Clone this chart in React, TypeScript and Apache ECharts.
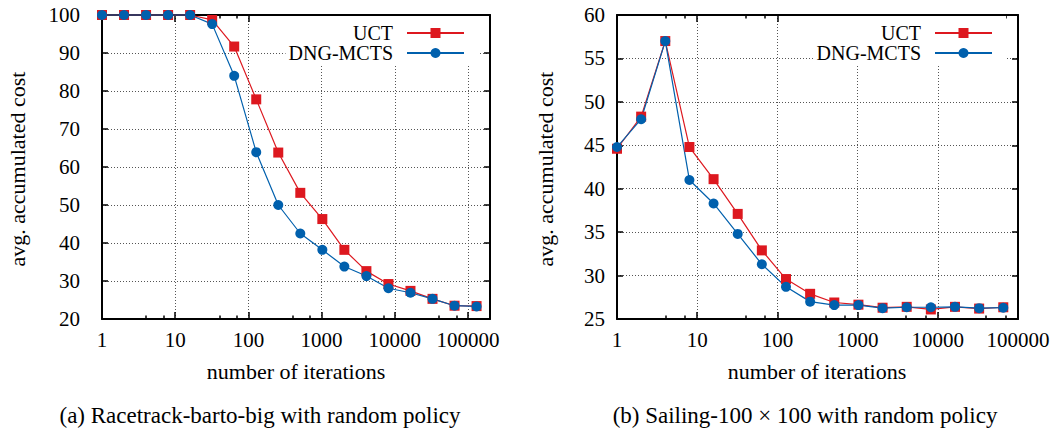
import React, { useEffect, useRef } from "react";
import * as echarts from "echarts";

const itersA = [1, 2, 4, 8, 16, 32, 64, 128, 256, 512, 1024, 2048, 4096, 8192, 16384, 32768, 65536, 131072];
const uctA = [100, 100, 100, 100, 100, 98.7, 91.7, 77.8, 63.8, 53.2, 46.3, 38.2, 32.6, 29.2, 27.4, 25.3, 23.5, 23.4];
const dngA = [100, 100, 100, 100, 100, 97.6, 84.0, 63.9, 50.0, 42.5, 38.2, 33.8, 31.3, 28.1, 26.9, 25.3, 23.5, 23.3];

const itersB = [1, 2, 4, 8, 16, 32, 64, 128, 256, 512, 1024, 2048, 4096, 8192, 16384, 32768, 65536];
const uctB = [44.6, 48.3, 57.0, 44.8, 41.1, 37.1, 32.9, 29.6, 27.9, 26.9, 26.65, 26.3, 26.4, 26.1, 26.4, 26.2, 26.35];
const dngB = [44.8, 48.0, 57.0, 41.0, 38.3, 34.8, 31.3, 28.7, 27.0, 26.6, 26.6, 26.25, 26.35, 26.35, 26.4, 26.25, 26.3];

const seriesNames = ["UCT", "DNG-MCTS"];
const xLabel = "number of iterations";
const yLabel = "avg. accumulated cost";
const captionA = "(a) Racetrack-barto-big with random policy";
const captionB = "(b) Sailing-100 \u00d7 100 with random policy";

const RED = "#dd181f";
const BLUE = "#0060ad";
const FONT = "Liberation Serif";

function pairs(xs: number[], ys: number[]) {
  return xs.map((x, i) => [x, ys[i]]);
}

export default function App() {
  const ref = useRef<HTMLDivElement>(null);
  useEffect(() => {
    const chart = echarts.init(ref.current!, null, { renderer: "svg" });
    const axisLine = { show: true, onZero: false, lineStyle: { color: "#000", width: 2 } };
    const grid = { show: true, type: [1, 2] as any, color: "#555", width: 1 };
    const xBase = (gridIndex: number, max: number, position: string, labels: boolean, split: boolean) => ({
      type: "log",
      logBase: 10,
      gridIndex,
      position,
      min: 1,
      max,
      axisLine,
      axisTick: { show: true, inside: true, length: 7, lineStyle: { color: "#000", width: 1.5 } },
      minorTick: { show: true, splitNumber: 3, length: 3.5, lineStyle: { color: "#000", width: 1.5 } },
      splitLine: { show: split, lineStyle: grid },
      axisLabel: {
        show: labels,
        margin: 10,
        showMaxLabel: max === 100000,
        fontFamily: FONT,
        fontSize: 21,
        color: "#000",
        formatter: (v: number) => String(Math.round(v)),
      },
    });
    const yBase = (gridIndex: number, min: number, max: number, interval: number, position: string, labels: boolean, split: boolean, margin: number) => ({
      type: "value",
      gridIndex,
      position,
      min,
      max,
      interval,
      axisLine,
      axisTick: { show: true, inside: true, length: 6, lineStyle: { color: "#000", width: 1.5 } },
      splitLine: { show: split, lineStyle: grid },
      axisLabel: { show: labels, margin, fontFamily: FONT, fontSize: 21, color: "#000" },
    });
    const line = (name: string, xi: number, data: number[][], color: string, symbol: string) => ({
      type: "line",
      name,
      xAxisIndex: xi,
      yAxisIndex: xi,
      data,
      symbol,
      symbolSize: 10,
      clip: false,
      lineStyle: { color, width: 1.2 },
      itemStyle: { color },
    });
    const legend = (right: number) => ({
      data: seriesNames,
      orient: "vertical",
      align: "right",
      right,
      top: 16,
      padding: [7, 13, 2, 3],
      itemGap: 0,
      itemWidth: 57,
      itemHeight: 12.5,
      backgroundColor: "#fff",
      textStyle: { fontFamily: FONT, fontSize: 20, lineHeight: 20, color: "#000", padding: [0, 9, 0, 0] },
    });
    const txt = (text: string, x: number, y: number, size: number, rot = 0) => ({
      type: "text",
      x,
      y,
      rotation: rot,
      style: { text, x: 0, y: 0, font: `${size}px "${FONT}"`, fill: "#000", align: "center", verticalAlign: "middle", textAlign: "center", textVerticalAlign: "middle" },
    });
    chart.setOption({
      animation: false,
      backgroundColor: "#fff",
      grid: [
        { left: 102, right: 565, top: 15, bottom: 109 },
        { left: 617, right: 37, top: 15, bottom: 109 },
      ],
      xAxis: [
        xBase(0, 200000, "bottom", true, true),
        xBase(0, 200000, "top", false, false),
        xBase(1, 100000, "bottom", true, true),
        xBase(1, 100000, "top", false, false),
      ],
      yAxis: [
        yBase(0, 20, 100, 10, "left", true, true, 22),
        yBase(0, 20, 100, 10, "right", false, false, 8),
        yBase(1, 25, 60, 5, "left", true, true, 12),
        yBase(1, 25, 60, 5, "right", false, false, 8),
      ],
      legend: [legend(577), legend(1055 - 1006)],
      series: [
        line(seriesNames[0], 0, pairs(itersA, uctA), RED, "rect"),
        line(seriesNames[1], 0, pairs(itersA, dngA), BLUE, "circle"),
        line(seriesNames[0], 2, pairs(itersB, uctB), RED, "rect"),
        line(seriesNames[1], 2, pairs(itersB, dngB), BLUE, "circle"),
      ],
      graphic: [
        txt(yLabel, 17, 169, 22, Math.PI / 2),
        txt(yLabel, 545, 169, 22, Math.PI / 2),
        txt(xLabel, 296, 371, 22),
        txt(xLabel, 817, 371, 22),
        txt(captionA, 260, 415, 23),
        txt(captionB, 805, 415, 23),
      ],
    });
    return () => chart.dispose();
  }, []);
  return <div ref={ref} style={{ position: "absolute", left: 0, top: 0, width: 1055, height: 428 }} />;
}
